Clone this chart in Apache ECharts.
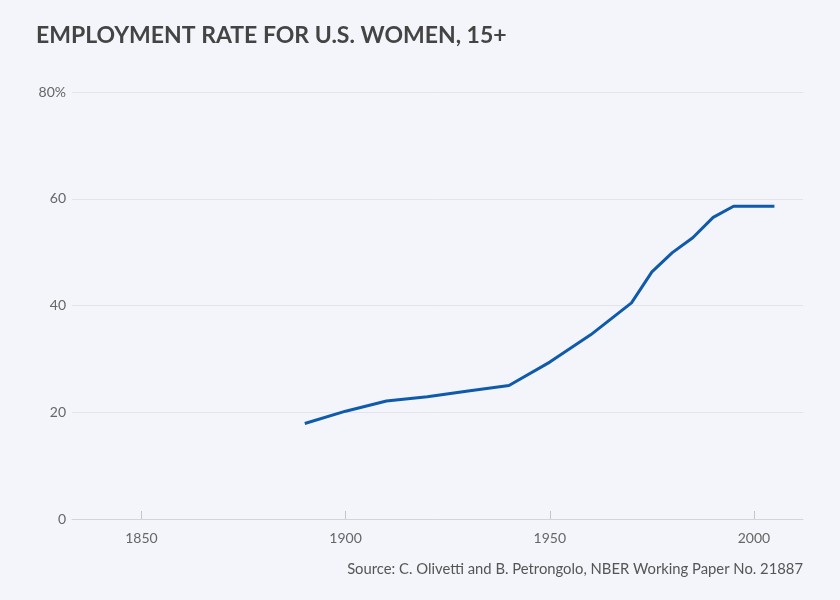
<!DOCTYPE html>
<html><head><meta charset="utf-8">
<script src="https://cdn.jsdelivr.net/npm/echarts@6/dist/echarts.min.js"></script>
<style>html,body{margin:0;padding:0;background:#f3f5fa}#c{width:840px;height:600px}</style>
</head><body><div id="c"></div>
<script>
const years = [1890, 1900, 1910, 1920, 1930, 1940, 1950, 1960, 1970, 1975, 1980, 1985, 1990, 1995, 2000, 2005];
const rates = [17.9, 20.2, 22.1, 22.9, 24.0, 25.0, 29.4, 34.5, 40.5, 46.3, 49.9, 52.7, 56.5, 58.6, 58.6, 58.6];
const xTicks = [1850, 1900, 1950, 2000];
const yTicks = [0, 20, 40, 60, 80];
const titleText = 'EMPLOYMENT RATE FOR U.S. WOMEN, 15+';
const sourceText = 'Source: C. Olivetti and B. Petrongolo, NBER Working Paper No. 21887';

const chart = echarts.init(document.getElementById('c'));
chart.setOption({
  backgroundColor: '#f3f5fa',
  animation: false,
  title: [{
    text: titleText, left: 36, top: 24, padding: 0,
    textStyle: {fontFamily: 'Lato', fontWeight: 'bold', fontSize: 23, color: '#444444'}
  }, {
    text: sourceText, right: 37, top: 562, padding: 0,
    textStyle: {fontFamily: 'Lato', fontWeight: 'normal', fontSize: 14.8, color: '#555555'}
  }],
  grid: {left: 72, right: 37, top: 92, bottom: 81},
  xAxis: {
    type: 'value', min: 1833, max: 2012,
    axisLine: {show: true, lineStyle: {color: '#d4d5da', width: 1}},
    axisTick: {show: true, inside: true, length: 8, customValues: xTicks, lineStyle: {color: '#c4c5ca'}},
    axisLabel: {customValues: xTicks, color: '#666666', fontFamily: 'Lato', fontSize: 14, margin: 12,
      formatter: v => String(v)},
    splitLine: {show: false}
  },
  yAxis: {
    type: 'value', min: 0, max: 80, interval: 20,
    axisLine: {show: false}, axisTick: {show: false},
    axisLabel: {color: '#666666', fontFamily: 'Lato', fontSize: 14, margin: 6,
      formatter: v => v === 80 ? '80%' : String(v)},
    splitLine: {lineStyle: {color: '#e3e4ea', width: 1}}
  },
  series: [{
    type: 'line', data: years.map((y, i) => [y, rates[i]]),
    showSymbol: false, lineStyle: {color: '#0f5aab', width: 3}, itemStyle: {color: '#0f5aab'}
  }]
});
</script></body></html>
